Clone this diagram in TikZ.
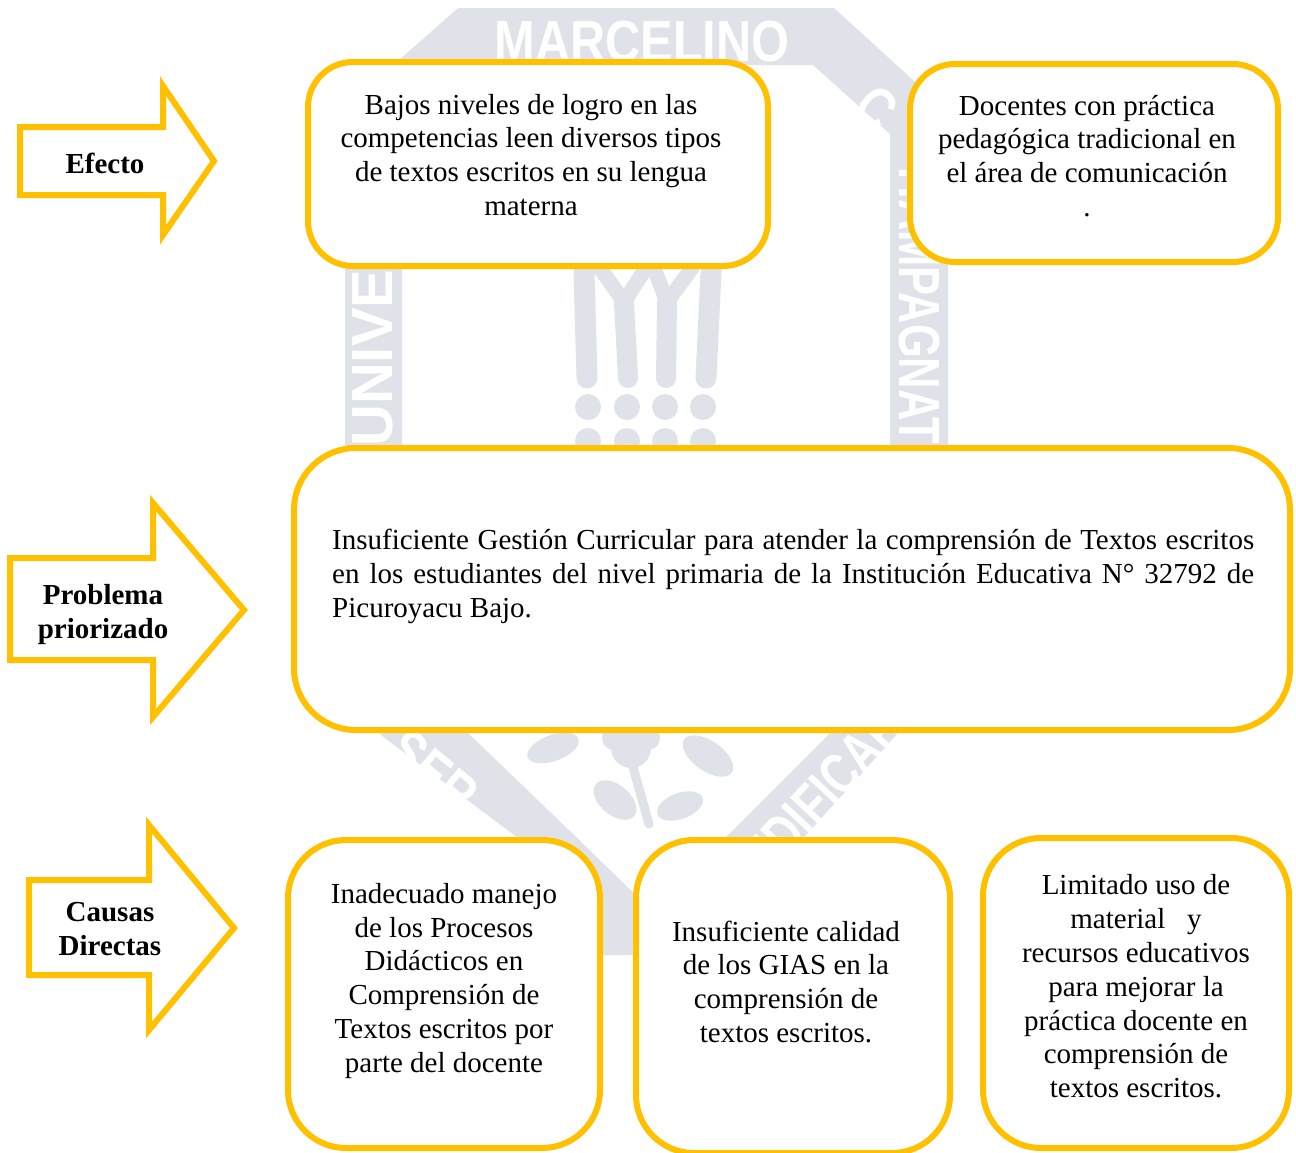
\documentclass[tikz,border=0pt]{standalone}
\usepackage{fontspec}
\setmainfont{Liberation Serif}
\newfontfamily\wmfont{Liberation Sans}
\definecolor{gold}{HTML}{FFC000}
\definecolor{wm}{HTML}{DFE2E8}
\tikzset{
  box/.style={draw=gold, line width=6pt, fill=white, rounded corners=#1, inner sep=0pt, outer sep=0pt},
  arrowshape/.style={draw=gold, line width=6pt, fill=white, line join=miter},
  txt/.style={font=\fontsize{29}{33.8}\selectfont, align=center, inner sep=0pt},
  lbl/.style={font=\fontsize{29}{34}\selectfont\bfseries, align=center, inner sep=0pt},
  wmtxt/.style={font=\wmfont\bfseries\fontsize{58}{58}\selectfont, text=white, inner sep=0pt},
  wmstroke/.style={draw=wm, line cap=round, line join=round}
}
\begin{document}
\begin{tikzpicture}[x=1pt,y=-1pt]
\useasboundingbox (0,0) rectangle (1296,1152);
\fill[white] (0,0) rectangle (1296,1152);
% ---------- watermark ----------
\fill[wm, even odd rule] (458,8) -- (834,8) -- (948,112) -- (948,685) -- (899,732) -- (806,835) -- (700,955) -- (592,955) -- (514,835) -- (381,735) -- (345,690) -- (345,108) -- cycle
  (479,65) -- (813,65) -- (890,134) -- (890,672) -- (831,732) -- (728,835) -- (646,905) -- (574,835) -- (467,732) -- (402,670) -- (402,134) -- cycle;
\node[wmtxt] (wm1) at (642,42) {\scalebox{0.84}[1]{MARCELINO}};
\node[wmtxt, rotate=90] (wm2) at (373,247) {UNIVERSIDAD};
\node[wmtxt, rotate=-42] (wm3) at (876,108) {\scalebox{0.8}[1]{C}};
\node[wmtxt, rotate=-90] (wm4) at (919,306) {\scalebox{0.75}[1]{HAMPAGNAT}};
\node[wmtxt, rotate=-40] (wm5) at (433,772) {\scalebox{0.8}[1]{SER}};
\node[wmtxt, rotate=47] (wm6) at (823,792) {\scalebox{0.75}[1]{EDIFICAR}};
% emblem strokes
\draw[wmstroke, line width=21pt] (587,378) -- (584,272);
\draw[wmstroke, line width=15pt] (600,268) -- (624,302);
\draw[wmstroke, line width=15pt] (646,268) -- (624,302);
\draw[wmstroke, line width=20pt] (624,302) -- (628,378);
\draw[wmstroke, line width=15pt] (654,268) -- (667,302);
\draw[wmstroke, line width=15pt] (692,268) -- (667,302);
\draw[wmstroke, line width=20pt] (667,302) -- (666,378);
\draw[wmstroke, line width=21pt] (706,378) -- (711,272);
\foreach \cx in {588,627,665,703} {
  \fill[wm] (\cx,407) circle[radius=13pt];
  \fill[wm] (\cx,441) circle[radius=13pt];
}
% flower
\fill[wm, rotate around={20:(553,748)}] (553,748) ellipse[x radius=27pt, y radius=13pt];
\fill[wm] (631,748) circle[radius=20pt];
\fill[wm] (614,738) circle[radius=12pt];
\fill[wm] (648,738) circle[radius=12pt];
\fill[wm, rotate around={-35:(708,756)}] (708,756) ellipse[x radius=29pt, y radius=15pt];
\fill[wm, rotate around={-40:(615,800)}] (615,800) ellipse[x radius=25pt, y radius=15pt];
\fill[wm, rotate around={20:(680,806)}] (680,806) ellipse[x radius=24pt, y radius=13pt];
\draw[wmstroke, line width=9pt] (631,760) -- (649,824);
% ---------- arrows ----------
\draw[arrowshape] (20,127) -- (163,127) -- (163,86) -- (214,161) -- (163,235) -- (163,195) -- (20,195) -- cycle;
\draw[arrowshape] (10,558) -- (153,558) -- (153,503) -- (244,610) -- (153,717) -- (153,660) -- (10,660) -- cycle;
\draw[arrowshape] (29,880) -- (149,880) -- (149,825) -- (234,928) -- (149,1030) -- (149,975) -- (29,975) -- cycle;
\node[lbl] (lef) at (105,163) {Efecto};
\node[lbl] (lpr) at (103,615) {\strut Problema\\priorizado\strut};
\node[lbl] (lca) at (110,932) {\strut Causas\\Directas\strut};
% ---------- boxes ----------
\node[box=45pt, minimum width=460pt, minimum height=204pt] (b1) at (538,164) {};
\node[box=45pt, minimum width=368pt, minimum height=198pt] (b2) at (1094,163) {};
\node[box=62pt, minimum width=996pt, minimum height=282pt] (bp) at (792,589) {};
\node[box=58pt, minimum width=312pt, minimum height=308pt] (ba) at (444,994) {};
\node[box=58pt, minimum width=314pt, minimum height=313pt] (bb) at (793,996.5) {};
\node[box=58pt, minimum width=306pt, minimum height=310pt] (bc) at (1136,993) {};
% ---------- texts ----------
\node[txt] (t1) at (531,158) {\strut Bajos niveles de logro en las\\competencias leen diversos tipos\\de textos escritos en su lengua\\materna\strut};
\node[txt] (t2) at (1087,159) {\strut Docentes con práctica\\pedagógica tradicional en\\el área de comunicación\\.\strut};
\node[txt, text width=922pt, align=justify, anchor=north west] (tp) at (332,526) {\tolerance=9999\hyphenpenalty=10000\strut Insuficiente Gestión Curricular para atender la comprensión de Textos escritos\linebreak en los estudiantes del nivel primaria de la Institución Educativa N° 32792 de\linebreak Picuroyacu Bajo.};
\node[txt] (ta) at (444,981) {\strut Inadecuado manejo\\de los Procesos\\Didácticos en\\Comprensión de\\Textos escritos por\\parte del docente\strut};
\node[txt] (tb) at (786,985) {\strut Insuficiente calidad\\de los GIAS en la\\comprensión de\\textos escritos.\strut};
\node[txt] (tc) at (1136,989.5) {\strut Limitado uso de\\material\ \ \ y\\recursos educativos\\para mejorar la\\práctica docente en\\comprensión de\\textos escritos.\strut};
\end{tikzpicture}
\end{document}
